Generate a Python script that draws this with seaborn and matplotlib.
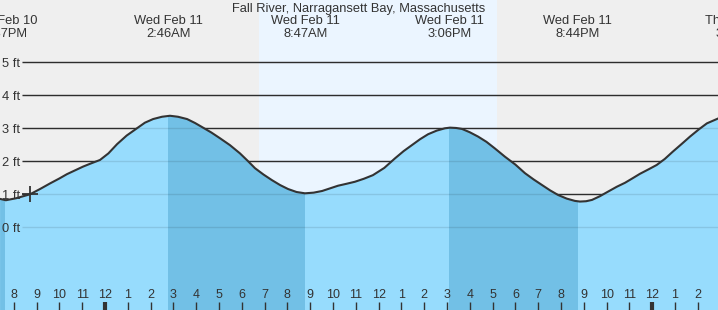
import matplotlib
matplotlib.use("Agg")
import matplotlib.pyplot as plt
import seaborn as sns
import pandas as pd

sns.set_style("white")
plt.rcParams["font.family"] = ["Liberation Sans", "DejaVu Sans"]

# ---------------- data ----------------
title = "Fall River, Narragansett Bay, Massachusetts"

# hours relative to midnight starting Wed Feb 11
hours = [-4.6, -4.35, -3.9, -3.29, -2.85, -2.41, -2.0, -1.67, -1.3, -0.96,
         -0.6, -0.22, 0.15, 0.53, 0.95, 1.40, 1.75, 2.11, 2.5, 2.85,
         3.2, 3.6, 3.95, 4.3, 4.67, 5.04, 5.48, 5.92, 6.25, 6.58,
         6.95, 7.32, 7.68, 8.03, 8.4, 8.77, 9.15, 9.52, 9.87, 10.22,
         10.6, 10.96, 11.35, 11.75, 12.25, 12.72, 13.1, 13.46, 13.82, 14.17,
         14.55, 14.91, 15.13, 15.4, 15.66, 16.0, 16.36, 16.73, 17.1, 17.54,
         18.0, 18.42, 18.8, 19.17, 19.52, 19.87, 20.25, 20.61, 20.83, 21.1,
         21.36, 21.7, 22.06, 22.45, 22.81, 23.15, 23.46, 23.85, 24.2, 24.55,
         24.9, 25.3, 25.66, 26.05, 26.4, 26.9]
heights = [0.86, 0.82, 0.88, 1.00, 1.16, 1.33, 1.48, 1.61, 1.73, 1.84,
           1.94, 2.04, 2.24, 2.52, 2.78, 3.00, 3.17, 3.28, 3.35, 3.38,
           3.35, 3.28, 3.16, 3.02, 2.87, 2.70, 2.49, 2.24, 2.02, 1.79,
           1.60, 1.43, 1.28, 1.16, 1.07, 1.03, 1.05, 1.10, 1.18, 1.26,
           1.32, 1.38, 1.47, 1.58, 1.80, 2.09, 2.31, 2.49, 2.67, 2.82,
           2.93, 3.00, 3.02, 3.01, 2.98, 2.88, 2.75, 2.59, 2.39, 2.14,
           1.90, 1.64, 1.45, 1.28, 1.12, 0.98, 0.87, 0.80, 0.78, 0.79,
           0.83, 0.94, 1.08, 1.23, 1.35, 1.49, 1.62, 1.76, 1.89, 2.07,
           2.29, 2.53, 2.75, 2.97, 3.15, 3.30]

event_hours = [-4.38, 2.77, 8.78, 15.10, 20.73, 27.77]
event_dates = ["Tue Feb 10", "Wed Feb 11", "Wed Feb 11", "Wed Feb 11", "Wed Feb 11", "Thu Feb 12"]
event_times = ["7:37PM", "2:46AM", "8:47AM", "3:06PM", "8:44PM", "3:46AM"]
event_kinds = ["low", "high", "low", "high", "low", "high"]

sun_times = [6.75, 17.2]        # sunrise, sunset
ft_levels = [0, 1, 2, 3, 4, 5]
hour_ticks = list(range(-4, 27))
cursor_point = (-3.29, 1.0)

# ---------------- layout ----------------
W, H = 718, 310
X0_PX, PX_PER_H = 105.0, 22.8
Y0_PX, PX_PER_FT = 227.3, 33.0
XMIN = (0 - X0_PX) / PX_PER_H
XMAX = (W - X0_PX) / PX_PER_H
YMIN = (Y0_PX - H) / PX_PER_FT
YMAX = Y0_PX / PX_PER_FT

def ypx(p):
    return (Y0_PX - p) / PX_PER_FT

def xpx(p):
    return (p - X0_PX) / PX_PER_H

TEXT = "#333333"
LIGHT = "#97dcfd"
DARK = "#72c0e6"

fig = plt.figure(figsize=(W / 100, H / 100), dpi=100)
ax = fig.add_axes([0, 0, 1, 1])
ax.set_facecolor("#efefef")

ax.axvspan(sun_times[0], sun_times[1], color="#ebf5ff", lw=0, zorder=0)

gx = xpx(22)
ax.hlines(ft_levels, gx, XMAX, color=TEXT, lw=1, zorder=1)

df = pd.DataFrame({"hour": hours, "height": heights})
poly = ax.fill_between(df["hour"], df["height"], YMIN - 1, color=LIGHT, lw=0, zorder=2)
clip_path = poly.get_paths()[0]

# falling-tide bands (high -> next low)
bands = [(XMIN - 1, event_hours[0])]
for i, k in enumerate(event_kinds[:-1]):
    if k == "high":
        bands.append((event_hours[i], event_hours[i + 1]))
for a, b in bands:
    sp = ax.axvspan(a, b, color=DARK, lw=0, zorder=2.5)
    sp.set_clip_path(clip_path, ax.transData)

ax.hlines(ft_levels, gx, XMAX, color="black", alpha=0.1, lw=1, zorder=3)

sns.lineplot(data=df, x="hour", y="height", color=TEXT, lw=1.5, ax=ax,
             zorder=4, estimator=None)
for ln in ax.lines:
    ln.set_solid_joinstyle("round")
ax.plot([cursor_point[0]], [cursor_point[1]], marker="+", ms=11, mew=1.3,
        color=TEXT, zorder=5)

for lv in ft_levels:
    ax.text(xpx(2), lv, f"{lv} ft", ha="left", va="center_baseline",
            fontsize=9.3, color=TEXT, zorder=6)

# hour ticks
for h in hour_ticks:
    lab = h % 12
    lab = 12 if lab == 0 else lab
    midnight = (h % 24 == 0)
    ax.vlines(h, YMIN, ypx(302), color=TEXT, lw=3 if midnight else 1, zorder=5)
    ax.text(h, ypx(298), str(lab), ha="center", va="baseline",
            fontsize=9, color=TEXT, zorder=6)

# header texts
tr = ax.get_xaxis_transform()
ax.text((XMIN + XMAX) / 2, 1 - 12 / H, title, transform=tr, ha="center",
        va="baseline", fontsize=9.3, color=TEXT)
for h, d, t in zip(event_hours, event_dates, event_times):
    ax.text(h, 1 - 24.5 / H, d, transform=tr, ha="center", va="baseline",
            fontsize=9.3, color=TEXT, clip_on=False)
    ax.text(h, 1 - 37 / H, t, transform=tr, ha="center", va="baseline",
            fontsize=9.3, color=TEXT, clip_on=False)

ax.set_xlim(XMIN, XMAX)
ax.set_ylim(YMIN, YMAX)
ax.set_xticks([])
ax.set_yticks([])
ax.set_xlabel("")
ax.set_ylabel("")
for s in ax.spines.values():
    s.set_visible(False)

fig.savefig("out.png", dpi=100)
